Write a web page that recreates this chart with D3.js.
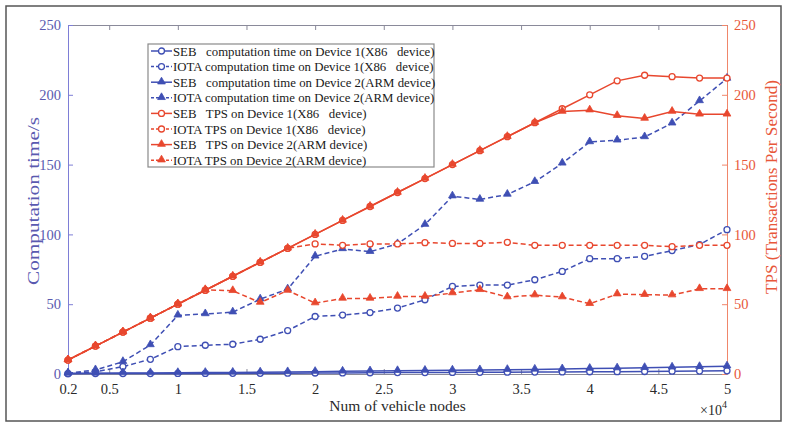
<!DOCTYPE html>
<html>
<head>
<meta charset="utf-8">
<script src="https://cdn.jsdelivr.net/npm/d3@7"></script>
<style>
  body { margin: 0; background: #fff; }
  svg text { font-family: "Liberation Serif", "DejaVu Serif", serif; }
</style>
</head>
<body>
<div id="chart"></div>
<script>
// x in units of 10^4 vehicle nodes
const nodes = [0.2,0.4,0.6,0.8,1.0,1.2,1.4,1.6,1.8,2.0,2.2,2.4,2.6,2.8,3.0,3.2,3.4,3.6,3.8,4.0,4.2,4.4,4.6,4.8,5.0];
const xTicks = [0.2,0.5,1,1.5,2,2.5,3,3.5,4,4.5,5];
const yTicks = [0,50,100,150,200,250];

// computation time (s), left axis
const sebTimeD1  = [0.2,0.3,0.3,0.3,0.4,0.4,0.5,0.5,0.6,0.7,0.8,0.9,1.0,1.0,1.1,1.2,1.3,1.4,1.5,1.6,1.7,1.8,2.0,2.1,2.3];
const iotaTimeD1 = [0.3,1.5,5.3,10.5,19.6,20.6,21.3,24.9,31.1,41.2,42.2,44.0,47.2,53.2,62.7,63.7,63.7,67.5,73.5,82.6,82.6,84.3,88.4,92.7,103.4];
const sebTimeD2  = [0.5,0.6,0.7,0.8,0.9,1.0,1.1,1.3,1.5,1.7,1.9,2.1,2.3,2.5,2.7,2.9,3.1,3.3,3.6,3.9,4.2,4.5,4.8,5.2,5.6];
const iotaTimeD2 = [0.5,2.9,8.8,20.8,42.0,43.0,44.3,53.6,60.8,84.3,89.6,87.6,93.2,107.0,127.4,125.0,128.6,137.7,150.9,166.2,167.4,169.8,179.6,195.6,211.7];

// TPS, right axis
const sebTpsD1  = [10,20,30,40,50,60,70,80,90,100,110,120,130,140,150,160,170,180,190,200,210,214,213,212,212];
const iotaTpsD1 = [10,20,30,40,50,60,70,80,90,93.2,92.2,93.2,93.2,94.1,93.5,93.5,94.3,92.2,92.2,92.2,92.2,92.2,91.2,92.2,92.2];
const sebTpsD2  = [10,20,30,40,50,60,70,80,90,100,110,120,130,140,150,160,170,180,188,189,185,183,188,186,186];
const iotaTpsD2 = [10,20,30,40,50,60.3,59.6,51.2,59.8,50.8,54.1,54.1,55.5,55.5,58,60.3,55.1,56.5,55.1,50.3,57.2,56.8,56.5,61,61];

const BLUE = "#3f4fb4", RED = "#e8472e";
const series = [
  { label: "SEB   computation time on Device 1(X86   device)", values: sebTimeD1,  color: BLUE, dash: null,  mark: "circle" },
  { label: "IOTA computation time on Device 1(X86   device)", values: iotaTimeD1, color: BLUE, dash: "5,3", mark: "circle" },
  { label: "SEB   computation time on Device 2(ARM device)",  values: sebTimeD2,  color: BLUE, dash: null,  mark: "triangle" },
  { label: "IOTA computation time on Device 2(ARM device)",  values: iotaTimeD2, color: BLUE, dash: "5,3", mark: "triangle" },
  { label: "SEB   TPS on Device 1(X86   device)",            values: sebTpsD1,   color: RED,  dash: null,  mark: "circle" },
  { label: "IOTA TPS on Device 1(X86   device)",             values: iotaTpsD1,  color: RED,  dash: "5,3", mark: "circle" },
  { label: "SEB   TPS on Device 2(ARM device)",              values: sebTpsD2,   color: RED,  dash: null,  mark: "triangle" },
  { label: "IOTA TPS on Device 2(ARM device)",               values: iotaTpsD2,  color: RED,  dash: "5,3", mark: "triangle" }
];

const width = 786, height = 427;
const margin = { top: 25, right: 59, bottom: 53, left: 68 };

const x = d3.scaleLinear().domain([0.2, 5]).range([margin.left, width - margin.right]);
const yL = d3.scaleLinear().domain([0, 250]).range([height - margin.bottom, margin.top]);
const yR = d3.scaleLinear().domain([0, 250]).range([height - margin.bottom, margin.top]);

const svg = d3.select("#chart").append("svg")
  .attr("width", width).attr("height", height);

// outer frame
svg.append("rect").attr("x", 6).attr("y", 6).attr("width", 775).attr("height", 415)
  .attr("fill", "none").attr("stroke", "#555").attr("stroke-width", 1.5);

// top and bottom axes
const xb = svg.append("g")
  .attr("transform", `translate(0,${yL(0)})`)
  .call(d3.axisBottom(x).tickValues(xTicks).tickSizeInner(-5).tickSizeOuter(0).tickPadding(10)
    .tickFormat(d => String(d)));
xb.select(".domain").attr("stroke", "#8a8a9a");
xb.selectAll("line").attr("stroke", "#8a8a9a");
xb.selectAll("text").attr("font-size", 14.5).attr("fill", "#2a2a2a").attr("font-family", "Liberation Serif");

const xt = svg.append("g")
  .attr("transform", `translate(0,${yL(250)})`)
  .call(d3.axisTop(x).tickValues(xTicks).tickSizeInner(-5).tickSizeOuter(0).tickFormat(""));
xt.select(".domain").attr("stroke", "#8a8a9a");
xt.selectAll("line").attr("stroke", "#8a8a9a");

// left axis
const gl = svg.append("g")
  .attr("transform", `translate(${margin.left},0)`)
  .call(d3.axisLeft(yL).tickValues(yTicks).tickSizeInner(-5).tickSizeOuter(0).tickPadding(7));
gl.select(".domain").attr("stroke", "#7e7ed6");
gl.selectAll("line").attr("stroke", "#7e7ed6");
gl.selectAll("text").attr("font-size", 14.5).attr("fill", "#5a5ab0").attr("font-family", "Liberation Serif");

// right axis
const gr = svg.append("g")
  .attr("transform", `translate(${width - margin.right},0)`)
  .call(d3.axisRight(yR).tickValues(yTicks).tickSizeInner(-5).tickSizeOuter(0).tickPadding(7));
gr.select(".domain").attr("stroke", "#f0866a");
gr.selectAll("line").attr("stroke", "#f0866a");
gr.selectAll("text").attr("font-size", 14.5).attr("fill", "#e8573a").attr("font-family", "Liberation Serif");

// axis titles
svg.append("text")
  .attr("transform", `translate(39,201) rotate(-90)`)
  .attr("text-anchor", "middle").attr("font-size", 16.5).attr("fill", "#5a5ab0")
  .attr("textLength", 168).attr("lengthAdjust", "spacingAndGlyphs")
  .text("Computation time/s");
svg.append("text")
  .attr("transform", `translate(777,187) rotate(-90)`)
  .attr("text-anchor", "middle").attr("font-size", 16.5).attr("fill", "#e8573a")
  .attr("textLength", 214).attr("lengthAdjust", "spacingAndGlyphs")
  .text("TPS (Transactions Per Second)");
svg.append("text")
  .attr("x", (x(0.2) + x(5)) / 2).attr("y", 411)
  .attr("text-anchor", "middle").attr("font-size", 15.5).attr("fill", "#2a2a2a")
  .text("Num of vehicle nodes");
const exp = svg.append("text").attr("x", 700).attr("y", 415).attr("font-size", 14).attr("fill", "#2a2a2a");
exp.append("tspan").text("\u00d710");
exp.append("tspan").attr("dy", -7).attr("font-size", 10).text("4");

// markers
const triangle = d3.symbol().type(d3.symbolTriangle).size(26);
function drawMark(g, mark, color, cx, cy) {
  if (mark === "circle") {
    g.append("circle").attr("cx", cx).attr("cy", cy).attr("r", 3)
      .attr("fill", "#fff").attr("stroke", color).attr("stroke-width", 1.3);
  } else {
    g.append("path").attr("d", triangle).attr("transform", `translate(${cx},${cy - 0.5})`)
      .attr("fill", color).attr("stroke", color).attr("stroke-width", 0.8);
  }
}

const plot = svg.append("g");
series.forEach(s => {
  const yS = s.color === RED ? yR : yL;
  const g = plot.append("g");
  g.append("path")
    .attr("d", d3.line().x((d, i) => x(nodes[i])).y(d => yS(d))(s.values))
    .attr("fill", "none").attr("stroke", s.color).attr("stroke-width", 1.5)
    .attr("stroke-dasharray", s.dash);
  s.values.forEach((v, i) => drawMark(g, s.mark, s.color, x(nodes[i]), yS(v)));
});

// legend
const lg = svg.append("g").attr("transform", "translate(148,44)");
lg.append("rect").attr("width", 286).attr("height", 123)
  .attr("fill", "#fff").attr("stroke", "#8a8a8a").attr("stroke-width", 1.2);
series.forEach((s, i) => {
  const yy = 7 + i * 15.6;
  const row = lg.append("g");
  row.append("line").attr("x1", 3).attr("x2", 24).attr("y1", yy).attr("y2", yy)
    .attr("stroke", s.color).attr("stroke-width", 1.5).attr("stroke-dasharray", s.dash ? "3,2" : null);
  drawMark(row, s.mark, s.color, 13.5, yy);
  row.append("text").attr("x", 25).attr("y", yy + 4.5)
    .attr("font-size", 12.8).attr("fill", "#1a1a1a")
    .style("white-space", "pre")
    .text(s.label);
});
</script>
</body>
</html>
